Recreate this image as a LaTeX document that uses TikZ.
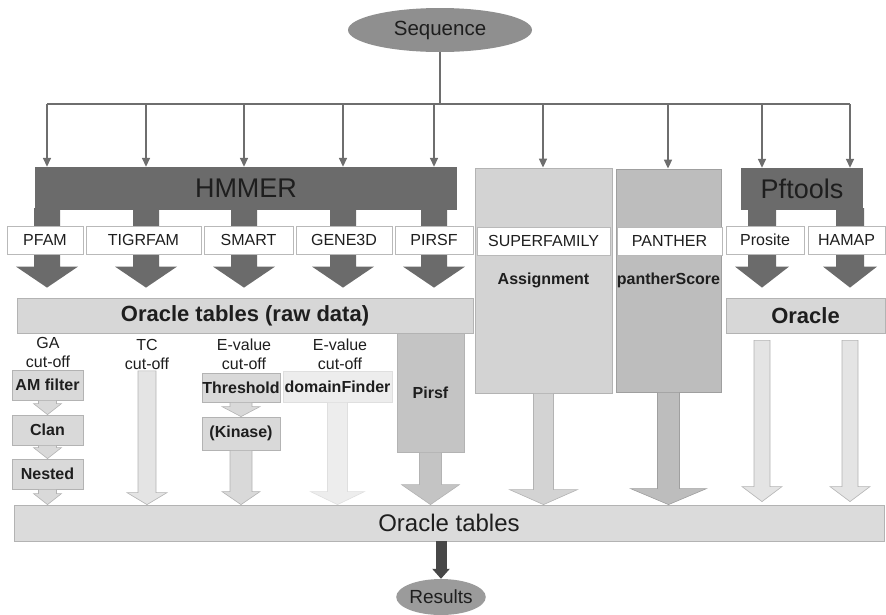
\documentclass[tikz,border=0pt]{standalone}
\usepackage{fontspec}
\setmainfont{Liberation Sans}
\usetikzlibrary{shapes.geometric, arrows.meta, positioning, calc}

\definecolor{darkc}{HTML}{6B6B6B}
\definecolor{linec}{HTML}{6E6E6E}
\definecolor{txtc}{HTML}{1E1E1E}
\definecolor{ovalc}{HTML}{8F8F8F}
\definecolor{resc}{HTML}{9B9B9B}
\definecolor{rawc}{HTML}{D7D7D7}
\definecolor{edgec}{HTML}{B3B3B3}
\definecolor{sfc}{HTML}{D3D3D3}
\definecolor{panc}{HTML}{BDBDBD}
\definecolor{pirc}{HTML}{C4C4C4}
\definecolor{filtc}{HTML}{D9D9D9}
\definecolor{palec}{HTML}{E4E4E4}
\definecolor{dfc}{HTML}{EDEDED}
\definecolor{tabc}{HTML}{DBDBDB}
\definecolor{resarc}{HTML}{474747}

\tikzset{
  fat/.style n args={3}{to path={let \p1=(\tikztostart), \p2=(\tikztotarget) in
    (\x1-#1,\y1) -- (\x1+#1,\y1) -- (\x1+#1,\y2+#3) -- (\x1+#2,\y2+#3)
    -- (\x1,\y2) -- (\x1-#2,\y2+#3) -- (\x1-#1,\y2+#3) -- cycle}},
  bus/.style={draw=linec, line width=1.6pt},
  tap/.style={bus, -{Triangle[length=9pt,width=8pt]}},
  bar/.style={fill=darkc, inner sep=0pt, text=txtc, font=\fontsize{27}{30}\selectfont},
  lbl/.style={draw=gray!55, fill=white, minimum height=28pt, inner sep=0pt, text=txtc, font=\fontsize{16}{19}\selectfont},
  tbl/.style={draw=edgec, line width=0.8pt, inner sep=0pt, text=txtc, font=\fontsize{22}{26}\selectfont\bfseries},
  col/.style={draw=edgec, line width=0.8pt, inner sep=0pt, text=txtc, font=\fontsize{16}{19}\selectfont\bfseries},
  filt/.style={col, fill=filtc, minimum width=71pt, minimum height=30pt},
  note/.style={align=center, inner sep=1pt, text=txtc, font=\fontsize{16}{19}\selectfont},
  ovalbox/.style={ellipse, fill=ovalc, inner sep=0pt, text=txtc, font=\fontsize{20.5}{24}\selectfont},
  hmarrow/.style={fat={13pt}{31pt}{21pt}, fill=darkc},
  pfarrow/.style={fat={14pt}{27pt}{21pt}, fill=darkc},
  stub/.style={fat={9pt}{14pt}{11pt}, fill=filtc, draw=edgec, line width=0.6pt}
}

\begin{document}
\begin{tikzpicture}[x=1pt,y=-1pt]
\useasboundingbox (0,0) rectangle (886,614);
% Input and fan-out
\node[ovalbox, minimum width=184pt, minimum height=44pt] (seq) at (440,30) {Sequence};
\foreach \n/\x in {1/47,2/146,3/244,4/343,5/434,6/543,7/668,8/762,9/850}
  \coordinate (t\n) at (\x,104);
\draw[bus] (seq.south) -- (seq.south |- t1);
\draw[bus] (t1) -- (t9);
% Tables
\node[tbl, fill=rawc, minimum width=456pt, minimum height=35pt] (raw) at (245,315.5) {Oracle tables (raw data)};
\node[tbl, fill=rawc, minimum width=159pt, minimum height=35pt] (orc) at (805.5,315.5) {Oracle};
\node[tbl, fill=tabc, minimum width=870pt, minimum height=36pt, font=\fontsize{24}{28}\selectfont] (tab) at (449,523) {Oracle tables};
% HMMER and Pftools
\node[bar, minimum width=422pt, minimum height=43pt] (hmmer) at (246,188.5) {HMMER};
\node[bar, minimum width=122pt, minimum height=42pt] (pft) at (802,189) {Pftools};
\foreach \n in {1,...,5}
  \path[hmarrow] ([yshift=2pt]t\n |- hmmer.south) to ([yshift=10pt]t\n |- raw.north);
\foreach \n in {8,9}
  \path[pfarrow] ([yshift=2pt]t\n |- pft.south) to ([yshift=10pt]t\n |- orc.north);
% Columns
\node[col, fill=sfc, minimum width=137pt, minimum height=225pt] (sf) at (543.5,280.5) {Assignment};
\node[col, fill=panc, draw=gray!75, minimum width=105pt, minimum height=223pt] (pan) at (668.5,280.5) {pantherScore};
\node[col, fill=pirc, minimum width=67pt, minimum height=119pt] (pir) at (430.5,392.5) {Pirsf};
% Member databases
\node[lbl, minimum width=76pt] (pfam) at (45,240) {PFAM};
\node[lbl, minimum width=115pt] (tigr) at (143.5,240) {TIGRFAM};
\node[lbl, minimum width=89pt] (smart) at (248.5,240) {SMART};
\node[lbl, minimum width=96pt] (gene) at (344,240) {GENE3D};
\node[lbl, minimum width=78pt] (pirsf) at (434,240) {PIRSF};
\node[lbl, minimum width=133pt] (sfl) at (543.5,241) {SUPERFAMILY};
\node[lbl, minimum width=105pt] (panl) at (669.5,241) {PANTHER};
\node[lbl, minimum width=78pt] (pros) at (765,240) {Prosite};
\node[lbl, minimum width=77pt] (hamap) at (846.5,240) {HAMAP};
\foreach \n in {1,...,5}
  \draw[tap] (t\n) -- (t\n |- hmmer.north);
\draw[tap] (t6) -- (t6 |- sf.north);
\draw[tap] (t7) -- (t7 |- pan.north);
\draw[tap] (t8) -- (t8 |- pft.north);
\draw[tap] (t9) -- (t9 |- pft.north);
% Post-processing
\node[note] (ga) at (48,352.5) {GA\\cut-off};
\node[note] (tc) at (147,354.5) {TC\\cut-off};
\node[note] (ev1) at (244,354.5) {E-value\\cut-off};
\node[note] (ev2) at (340,354.5) {E-value\\cut-off};
\node[filt] (am) at (47.5,385) {AM filter};
\node[filt] (clan) at (47.5,430) {Clan};
\node[filt] (nest) at (47.5,474) {Nested};
\node[filt, minimum width=78pt, minimum height=29pt] (thr) at (241,387.5) {Threshold};
\node[filt, minimum width=78pt, minimum height=33pt] (kin) at (241,433.5) {(Kinase)};
\node[filt, fill=dfc, draw=gray!25, minimum width=109pt, minimum height=31pt] (df) at (337.5,386.5) {domainFinder};
\path[stub] (am.south) to (clan.north);
\path[stub] (clan.south) to (nest.north);
\path[stub] (nest.south) to (nest.south |- tab.north);
\path[stub, fat={11pt}{19pt}{10pt}] (thr.south) to (kin.north);
\path[stub, fat={11pt}{19pt}{13pt}] (kin.south) to (kin.south |- tab.north);
\path[stub, fill=palec, fat={9pt}{20pt}{12pt}] (tc.south) to (tc.south |- tab.north);
\path[stub, fill=dfc, draw=gray!25, fat={10pt}{27pt}{13pt}] (df.south) to (df.south |- tab.north);
\path[stub, fill=pirc, fat={11pt}{29pt}{20pt}] (pir.south) to (pir.south |- tab.north);
\path[stub, fill=sfc, fat={10pt}{34pt}{15pt}] (sf.south) to (sf.south |- tab.north);
\path[stub, fill=panc, draw=gray!75, fat={11pt}{38pt}{16pt}] (pan.south) to (pan.south |- tab.north);
\foreach \n in {8,9}
  \path[stub, fill=palec, fat={8pt}{20pt}{15pt}] ([yshift=-7pt]t\n |- orc.south) to ([yshift=3pt]t\n |- tab.north);
% Output
\node[ovalbox, fill=resc, minimum width=88pt, minimum height=36pt, font=\fontsize{19}{22}\selectfont] (res) at (441,597) {Results};
\draw[draw=resarc, line width=11pt, -{Triangle[length=10pt,width=17pt]}] (res |- tab.south) -- (res.north);
\end{tikzpicture}
\end{document}
